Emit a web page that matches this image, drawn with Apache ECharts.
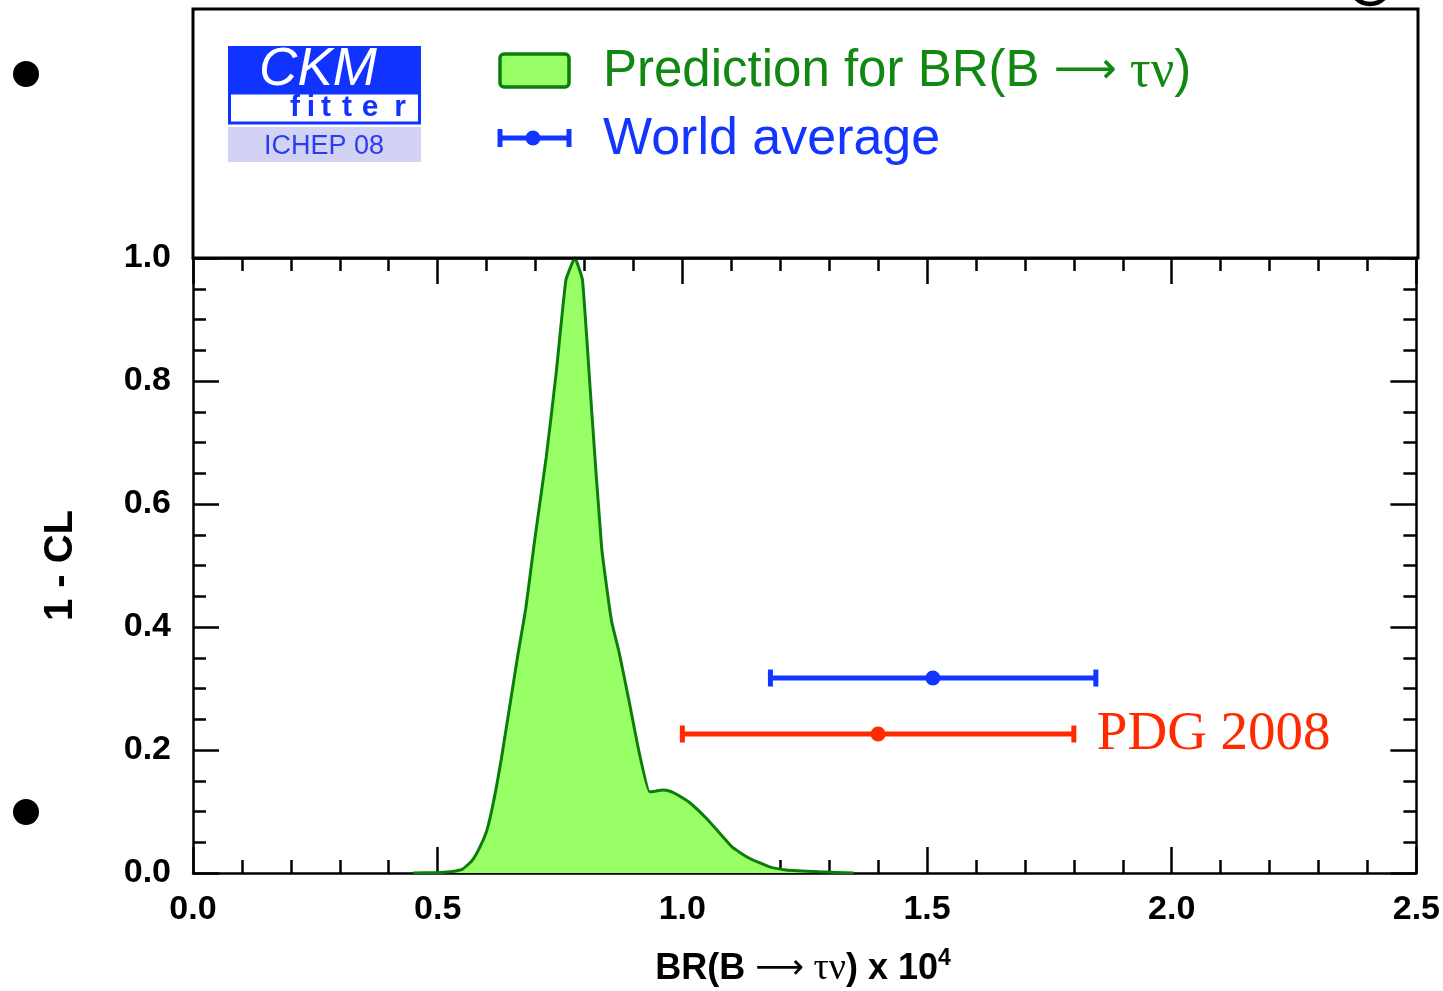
<!DOCTYPE html>
<html>
<head>
<meta charset="utf-8">
<script src="https://cdn.jsdelivr.net/npm/echarts@6/dist/echarts.min.js"></script>
<style>
html,body{margin:0;padding:0;background:#fff;}
#chart{width:1443px;height:991px;}
</style>
</head>
<body>
<div id="chart"></div>
<script>
// ---- data ----
const predX = [0.45,0.50,0.525,0.55,0.57,0.585,0.60,0.61,0.62,0.63,0.647,0.665,0.68,0.698,0.722,0.742,0.762,0.774,0.780,0.786,0.796,0.814,0.835,0.855,0.871,0.892,0.912,0.933,0.945,0.959,0.975,0.988,1.014,1.049,1.076,1.102,1.137,1.178,1.212,1.28,1.35];
const predY = [0,0.0005,0.002,0.006,0.02,0.04,0.068,0.10,0.14,0.185,0.27,0.36,0.43,0.54,0.677,0.812,0.964,0.99,1.0,0.99,0.964,0.76,0.53,0.411,0.358,0.276,0.195,0.132,0.133,0.135,0.133,0.128,0.115,0.089,0.065,0.042,0.024,0.010,0.005,0.002,0];
const errNames = ['World average','PDG 2008'];
const errCenter = [1.512, 1.40];
const errLow = [1.18, 1.00];
const errHigh = [1.845, 1.80];
const errY = [0.317, 0.226];
const xTicks = [0.0,0.5,1.0,1.5,2.0,2.5];
const yTicks = [0.0,0.2,0.4,0.6,0.8,1.0];

const GREEN_LINE = '#0b7d0b';
const GREEN_FILL = '#99ff66';
const GREEN_TEXT = '#118811';
const BLUE = '#1236ff';
const RED = '#ff2a00';

const chart = echarts.init(document.getElementById('chart'), null, {renderer:'canvas'});

function renderErr(params, api){
  const c = api.coord([api.value(0), api.value(1)]);
  const l = api.coord([api.value(2), api.value(1)]);
  const h = api.coord([api.value(3), api.value(1)]);
  const color = api.visual('color');
  const children = [
    {type:'line', shape:{x1:l[0],y1:l[1],x2:h[0],y2:h[1]}, style:{stroke:color,lineWidth:5}},
    {type:'line', shape:{x1:l[0],y1:l[1]-8.5,x2:l[0],y2:l[1]+8.5}, style:{stroke:color,lineWidth:5}},
    {type:'line', shape:{x1:h[0],y1:h[1]-8.5,x2:h[0],y2:h[1]+8.5}, style:{stroke:color,lineWidth:5}},
    {type:'circle', shape:{cx:c[0],cy:c[1],r:7.5}, style:{fill:color}}
  ];
  if (params.seriesName === 'PDG 2008') {
    children.push({type:'text', x:h[0]+23, y:h[1]+1, style:{text:errNames[1], fill:color, font:'55px "Liberation Serif", serif', textVerticalAlign:'middle', textAlign:'left'}});
  }
  return {type:'group', children};
}

const axisLineStyle = {color:'#000', width:2.5};
const tickCommon = {show:true, inside:true, length:26, lineStyle:{color:'#000', width:2.5}};
const minorCommon = {show:true, length:13, lineStyle:{color:'#000', width:2.5}};
const labelFont = {fontFamily:'"Liberation Sans", Arial, sans-serif', fontWeight:'bold', fontSize:34, color:'#000'};
const SANS = '"Liberation Sans", Arial, sans-serif';

const option = {
  animation:false,
  backgroundColor:'#fff',
  grid:{left:193, right:25, top:258, bottom:118, containLabel:false},
  xAxis:[
    {type:'value', min:0, max:2.5, interval:0.5, position:'bottom',
     axisLine:{show:true, onZero:false, lineStyle:axisLineStyle},
     axisTick:tickCommon, minorTick:Object.assign({splitNumber:5}, minorCommon),
     splitLine:{show:false},
     axisLabel:Object.assign({margin:20, formatter:v=>v.toFixed(1)}, labelFont)},
    {type:'value', min:0, max:2.5, interval:0.5, position:'top',
     axisLine:{show:true, onZero:false, lineStyle:axisLineStyle},
     axisTick:tickCommon, minorTick:Object.assign({splitNumber:5}, minorCommon),
     splitLine:{show:false}, axisLabel:{show:false}}
  ],
  yAxis:[
    {type:'value', min:0, max:1.0, interval:0.2, position:'left',
     axisLine:{show:true, onZero:false, lineStyle:axisLineStyle},
     axisTick:tickCommon, minorTick:Object.assign({splitNumber:4}, minorCommon),
     splitLine:{show:false},
     axisLabel:Object.assign({margin:22, formatter:v=>v.toFixed(1)}, labelFont),
     name:'1 - CL', nameLocation:'middle', nameGap:112, nameRotate:90,
     nameTextStyle:{fontFamily:SANS, fontWeight:'bold', fontSize:40, color:'#000'}},
    {type:'value', min:0, max:1.0, interval:0.2, position:'right',
     axisLine:{show:true, onZero:false, lineStyle:axisLineStyle},
     axisTick:tickCommon, minorTick:Object.assign({splitNumber:4}, minorCommon),
     splitLine:{show:false}, axisLabel:{show:false}}
  ],
  series:[
    {name:'Prediction', type:'line', xAxisIndex:0, yAxisIndex:0,
     data:predX.map((x,i)=>[x,predY[i]]),
     showSymbol:false, symbol:'none', smooth:0.15,
     lineStyle:{color:GREEN_LINE, width:3},
     areaStyle:{color:GREEN_FILL, opacity:1},
     z:2},
    {name:'World average', type:'custom', xAxisIndex:0, yAxisIndex:0,
     itemStyle:{color:BLUE}, renderItem:renderErr,
     data:[[errCenter[0], errY[0], errLow[0], errHigh[0]]], z:5},
    {name:'PDG 2008', type:'custom', xAxisIndex:0, yAxisIndex:0,
     itemStyle:{color:RED}, renderItem:renderErr,
     data:[[errCenter[1], errY[1], errLow[1], errHigh[1]]], z:5}
  ],
  graphic:[
    // top legend box
    {type:'rect', shape:{x:193, y:9, width:1225, height:249}, style:{fill:'none', stroke:'#000', lineWidth:3}, z:10},
    // bullets
    {type:'circle', shape:{cx:26, cy:74, r:13}, style:{fill:'#000'}},
    {type:'circle', shape:{cx:26, cy:812, r:13}, style:{fill:'#000'}},
    // partial glyph at top right
    {type:'arc', shape:{cx:1370, cy:-16, r:20, startAngle:0, endAngle:Math.PI}, style:{stroke:'#000', lineWidth:4.5, fill:'none'}},
    // CKM fitter logo
    {type:'rect', shape:{x:228, y:46, width:193, height:47}, style:{fill:'#1133ff'}},
    {type:'rect', shape:{x:229.5, y:93, width:190, height:30}, style:{fill:'#fff', stroke:'#1133ff', lineWidth:3}},
    {type:'rect', shape:{x:228, y:127, width:193, height:35}, style:{fill:'#d2d2f4'}},
    {type:'text', x:318, y:70, style:{text:'CKM', fill:'#fff', font:'italic 53px ' + SANS, textAlign:'center', textVerticalAlign:'middle'}},
    {type:'text', x:295, y:108, style:{text:'f', fill:'#1133ff', font:'bold 30px ' + SANS, textAlign:'center', textVerticalAlign:'middle'}},
    {type:'text', x:311, y:108, style:{text:'i', fill:'#1133ff', font:'bold 30px ' + SANS, textAlign:'center', textVerticalAlign:'middle'}},
    {type:'text', x:326, y:108, style:{text:'t', fill:'#1133ff', font:'bold 30px ' + SANS, textAlign:'center', textVerticalAlign:'middle'}},
    {type:'text', x:347, y:108, style:{text:'t', fill:'#1133ff', font:'bold 30px ' + SANS, textAlign:'center', textVerticalAlign:'middle'}},
    {type:'text', x:370, y:108, style:{text:'e', fill:'#1133ff', font:'bold 30px ' + SANS, textAlign:'center', textVerticalAlign:'middle'}},
    {type:'text', x:400, y:108, style:{text:'r', fill:'#1133ff', font:'bold 30px ' + SANS, textAlign:'center', textVerticalAlign:'middle'}},
    {type:'text', x:324, y:147, style:{text:'ICHEP 08', fill:'#2a3cf0', font:'27px ' + SANS, textAlign:'center', textVerticalAlign:'middle'}},
    // legend: prediction
    {type:'rect', shape:{x:500, y:54, width:69, height:33, r:4}, style:{fill:GREEN_FILL, stroke:GREEN_LINE, lineWidth:3.5}},
    {type:'text', x:603, y:72, style:{
      rich:{s:{fontFamily:SANS, fontSize:51, fill:GREEN_TEXT},
            a:{fontFamily:'"DejaVu Sans", sans-serif', fontSize:44, fill:GREEN_TEXT},
            g:{fontFamily:'"Liberation Serif", serif', fontSize:52, fill:GREEN_TEXT}},
      text:'{s|Prediction for BR(B }{a|⟶}{g| τν}{s|)}', textVerticalAlign:'middle', textAlign:'left'}},
    // legend: world average
    {type:'line', shape:{x1:499, y1:138, x2:570, y2:138}, style:{stroke:BLUE, lineWidth:5}},
    {type:'line', shape:{x1:500, y1:129, x2:500, y2:147}, style:{stroke:BLUE, lineWidth:5}},
    {type:'line', shape:{x1:569, y1:129, x2:569, y2:147}, style:{stroke:BLUE, lineWidth:5}},
    {type:'circle', shape:{cx:533, cy:138, r:7.5}, style:{fill:BLUE}},
    {type:'text', x:603, y:140, style:{text:'World average', fill:BLUE, font:'52px ' + SANS, textVerticalAlign:'middle', textAlign:'left'}},
    // x axis title
    {type:'text', x:803, y:969, style:{
      rich:{b:{fontFamily:SANS, fontWeight:'bold', fontSize:36, fill:'#000'},
            a:{fontFamily:'"DejaVu Sans", sans-serif', fontSize:34, fill:'#000'},
            g:{fontFamily:'"Liberation Serif", serif', fontSize:38, fill:'#000'},
            sup:{fontFamily:SANS, fontWeight:'bold', fontSize:23, fill:'#000', verticalAlign:'top', padding:[0,0,20,0]}},
      text:'{b|BR(B }{a|⟶}{g| τν}{b|) x 10}{sup|4}', textAlign:'center', textVerticalAlign:'middle'}}
  ]
};
chart.setOption(option);
</script>
</body>
</html>
